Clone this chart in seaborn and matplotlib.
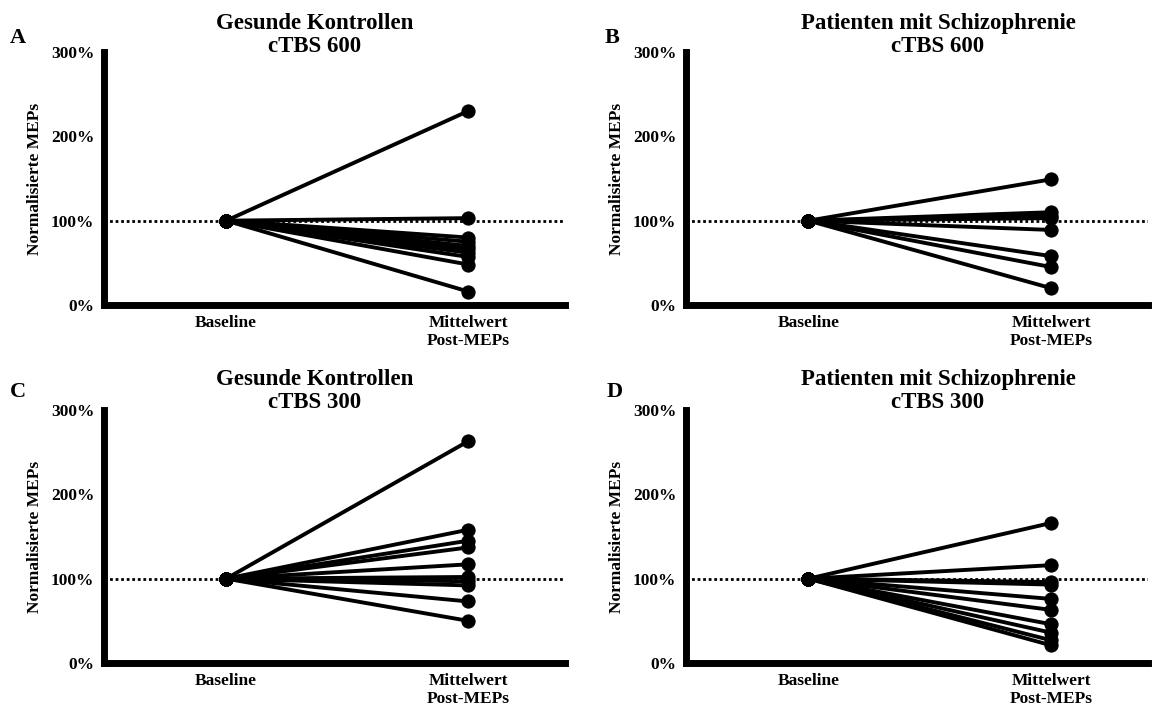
import numpy as np
import pandas as pd
import matplotlib
matplotlib.use("Agg")
import matplotlib.pyplot as plt
import seaborn as sns

sns.set_theme(style="white")
plt.rcParams['font.family'] = ['Liberation Serif', 'DejaVu Serif']
plt.rcParams['font.weight'] = 'bold'
plt.rcParams['text.color'] = 'black'
plt.rcParams['xtick.color'] = 'black'
plt.rcParams['ytick.color'] = 'black'
plt.rcParams['axes.labelcolor'] = 'black'

conditions = ["Baseline", "Mittelwert\nPost-MEPs"]
baseline = 100

post_A = [230, 103, 80, 75, 70, 66, 62, 57, 48, 16]
post_B = [149, 110, 106, 103, 89, 58, 45, 20]
post_C = [263, 158, 145, 137, 117, 102, 97, 92, 73, 50]
post_D = [166, 116, 96, 93, 76, 63, 46, 36, 27, 21]

titles = ["Gesunde Kontrollen\ncTBS 600", "Patienten mit Schizophrenie\ncTBS 600",
          "Gesunde Kontrollen\ncTBS 300", "Patienten mit Schizophrenie\ncTBS 300"]
letters = ["A", "B", "C", "D"]
ytick_vals = [0, 100, 200, 300]
ytick_labels = ["0%", "100%", "200%", "300%"]
ylabel = "Normalisierte MEPs"

W, H = 1172, 709
fig = plt.figure(figsize=(W / 100, H / 100), dpi=100)

boxes = [(104, 52, 565, 305), (686, 52, 1148, 305),
         (104, 410, 565, 663), (686, 410, 1148, 663)]
title_pos = [(315, 35), (938, 35), (315, 391), (938, 391)]
letter_pos = [(10, 38), (605, 38), (10, 392), (607, 392)]
datasets = [post_A, post_B, post_C, post_D]

for i, (box, post) in enumerate(zip(boxes, datasets)):
    x0, y0, x1, y1 = box
    ax = fig.add_axes([x0 / W, 1 - y1 / H, (x1 - x0) / W, (y1 - y0) / H])
    rows = []
    for s, v in enumerate(post):
        rows.append({"subj": s, "x": 0, "val": baseline})
        rows.append({"subj": s, "x": 1, "val": v})
    df = pd.DataFrame(rows)
    ax.axhline(100, color="black", ls=(0, (1, 1)), lw=2, zorder=1)
    sns.lineplot(data=df, x="x", y="val", units="subj", estimator=None,
                 color="black", lw=2.8, marker="o", markersize=9.5,
                 markeredgecolor="black", ax=ax, zorder=3, legend=False)
    ax.set_xlim(-0.505, 1.4)
    ax.set_ylim(0, 300)
    ax.set_xticks([0, 1])
    ax.set_xticklabels(conditions, fontsize=12.5, fontweight="bold")
    ax.set_yticks(ytick_vals)
    ax.set_yticklabels(ytick_labels, fontsize=12.5, fontweight="bold")
    ax.set_xlabel("")
    ax.set_ylabel(ylabel, fontsize=12.5, fontweight="bold", labelpad=6)
    ax.tick_params(axis="both", length=0, pad=7)
    for sp in ["top", "right"]:
        ax.spines[sp].set_visible(False)
    for sp in ["left", "bottom"]:
        ax.spines[sp].set_linewidth(5)
        ax.spines[sp].set_color("black")
        ax.spines[sp].set_capstyle("projecting")
    tx, ty = title_pos[i]
    fig.text(tx / W, 1 - ty / H, titles[i], ha="center", va="center",
             fontsize=16.5, fontweight="bold", linespacing=1.1)
    lx, ly = letter_pos[i]
    fig.text(lx / W, 1 - ly / H, letters[i], ha="left", va="center",
             fontsize=16, fontweight="bold")

fig.savefig("out.png", dpi=100)
